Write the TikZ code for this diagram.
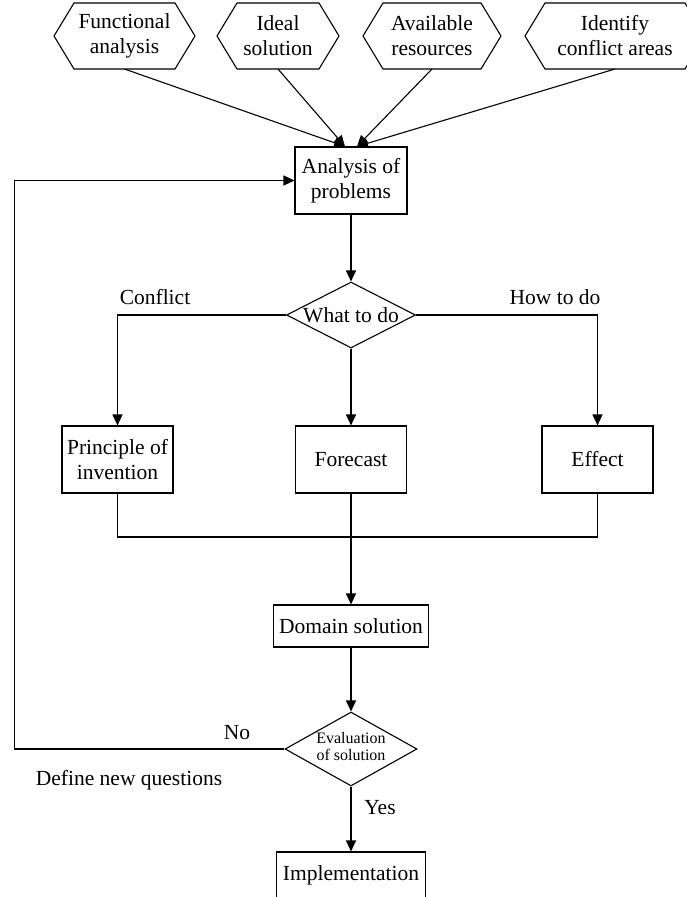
\documentclass[tikz,border=0pt]{standalone}
\usepackage{fontspec}
\setmainfont{Liberation Serif}
\usetikzlibrary{shapes.geometric,arrows.meta,calc}
\begin{document}
\begin{tikzpicture}[x=1pt,y=-1pt,
  line width=1.1pt,
  every node/.style={font=\fontsize{21.5}{25}\selectfont, inner sep=0pt, align=center},
  box/.style={draw, rectangle, minimum width=111pt, minimum height=67pt},
  dia/.style={draw, diamond},
  arr/.style={-{Triangle[length=11pt,width=10pt]}},
  small/.style={font=\fontsize{16}{17}\selectfont}
]
\useasboundingbox (0,0) rectangle (687,897);
\clip (0,0) rectangle (687,897);

% hexagons: name, cx, halfwidth, text
\newcommand{\hexa}[4]{%
  \node (#1) at (#2,36) {#4};
  \coordinate (#1s) at (#2,69);
  \draw ($(#1)+(-#3,0)$) -- ($(#1)+(-#3+20,-33)$) -- ($(#1)+(#3-20,-33)$)
        -- ($(#1)+(#3,0)$) -- ($(#1)+(#3-20,33)$) -- ($(#1)+(-#3+20,33)$) -- cycle;
}
\hexa{h1}{124.5}{70.5}{Functional\\analysis}
\hexa{h2}{278}{61}{Ideal\\solution}
\hexa{h3}{432}{69}{Available\\resources}
\hexa{h4}{615}{90}{Identify\\conflict areas}

\node[box, minimum width=112pt] (an) at (351,180.5) {Analysis of\\problems};

\node[dia, minimum width=129pt, minimum height=66pt] (d1) at (351,315) {\makebox[0pt]{What to do}};

\node[box] (p1) at (117.5,459.5) {Principle of\\invention};
\node[box] (fc) at (351,459.5) {Forecast};
\node[box] (ef) at (597.5,459.5) {Effect};

\node[box, minimum width=155pt, minimum height=42pt] (ds) at (351,626) {Domain solution};

\node[dia, minimum width=132pt, minimum height=74pt, small] (d2) at (351,749)
  {\makebox[0pt]{\begin{tabular}{@{}c@{}}Evaluation\\of solution\end{tabular}}};

\node[box, minimum width=149pt, minimum height=47pt] (im) at (351,875.5) {Implementation};

% labels
\node (lc) at (155,297) {Conflict};
\node (lh) at (555,297) {How to do};
\node (ln) at (237,733) {No};
\node (lq) at (129,780) {Define new questions};
\node (ly) at (380,808) {Yes};

% connectors
\draw[arr] (h1s) -- ($(an.north)+(-6,0)$);
\draw[arr] (h2s) -- ($(an.north)+(-6,0)$);
\draw[arr] (h3s) -- ($(an.north)+(6,0)$);
\draw[arr] (h4s) -- ($(an.north)+(6,0)$);

\draw[arr] (an.south) -- (d1.north);
\draw[arr] (d1.west) -| (p1.north);
\draw[arr] (d1.south) -- (fc.north);
\draw[arr] (d1.east) -| (ef.north);

\coordinate (jn) at (351,537);
\draw (p1.south) |- (jn) -| (ef.south);
\draw[arr] (fc.south) -- (ds.north);
\draw[arr] (ds.south) -- (d2.north);
\draw[arr] (d2.south) -- (im.north);
\draw[arr] (d2.west) -- ++(-270,0) |- (an.west);
\end{tikzpicture}
\end{document}
